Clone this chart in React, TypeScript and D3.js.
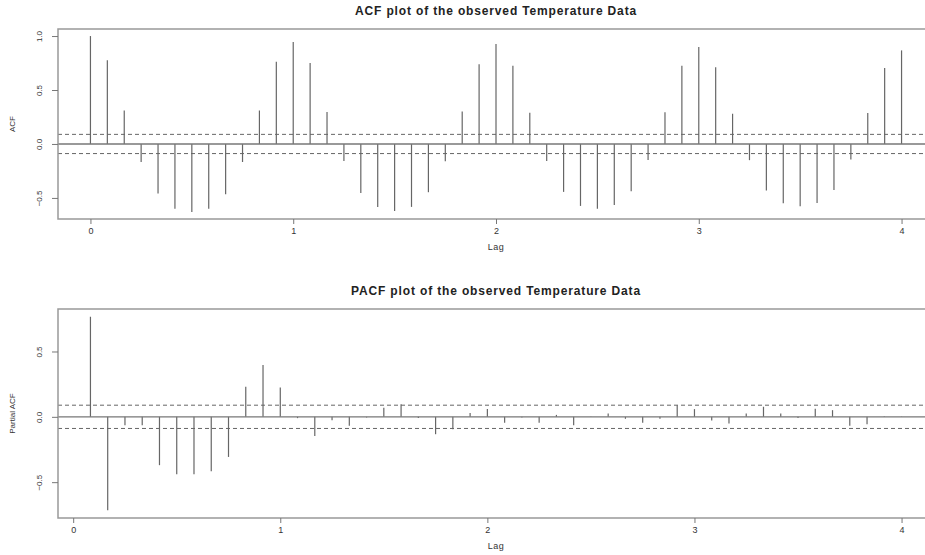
import { useEffect, useRef } from 'react';
import * as d3 from 'd3';

// monthly lags, frequency 12
const acfValues = [
  1.0, 0.775, 0.31, -0.167, -0.46, -0.6, -0.63, -0.6, -0.466, -0.167, 0.31, 0.762,
  0.944, 0.75, 0.296, -0.157, -0.454, -0.583, -0.62, -0.583, -0.447, -0.16, 0.3, 0.738,
  0.926, 0.725, 0.29, -0.157, -0.444, -0.574, -0.6, -0.565, -0.438, -0.148, 0.293, 0.725,
  0.898, 0.71, 0.28, -0.15, -0.432, -0.55, -0.577, -0.546, -0.426, -0.145, 0.287, 0.704,
  0.867,
];
const pacfValues = [
  0.766, -0.715, -0.064, -0.064, -0.37, -0.44, -0.44, -0.416, -0.307, 0.23, 0.396, 0.225,
  -0.01, -0.147, -0.026, -0.069, -0.005, 0.069, 0.097, -0.008, -0.133, -0.095, 0.03, 0.059,
  -0.046, -0.005, -0.046, 0.015, -0.064, 0.003, 0.026, -0.015, -0.046, -0.015, 0.089, 0.059,
  -0.028, -0.051, 0.026, 0.077, 0.026, -0.008, 0.061, 0.051, -0.069, -0.056, 0.005, 0.002,
];
const confLimit = 0.089;
const xTicks = [0, 1, 2, 3, 4];
const acfYTicks = [-0.5, 0, 0.5, 1];
const pacfYTicks = [-0.5, 0, 0.5];
const titles = ['ACF plot of the observed Temperature Data', 'PACF plot of the observed Temperature Data'];
const yLabels = ['ACF', 'Partial ACF'];

const W = 925;
const H = 555;
const FONT = '"Liberation Sans", Arial, sans-serif';

// R style range: extend 4% on each side
function rRange(vals: number[]): [number, number] {
  const [lo, hi] = d3.extent(vals) as [number, number];
  const pad = (hi - lo) * 0.04;
  return [lo - pad, hi + pad];
}

function drawPanel(svg: any, opts: any) {
  const { values, lagStart, top, bottom, left, right, yTicks, title, yLabel } = opts;
  const lags = values.map((_: number, i: number) => (lagStart + i) / 12);

  const x = d3.scaleLinear().domain(rRange(lags)).range([left, right]);
  const y = d3
    .scaleLinear()
    .domain(rRange([...values, confLimit, -confLimit]))
    .range([bottom, top]);

  const g = svg.append('g');

  // spikes
  g.selectAll('.spike')
    .data(values)
    .enter()
    .append('line')
    .attr('x1', (_: number, i: number) => x(lags[i]))
    .attr('x2', (_: number, i: number) => x(lags[i]))
    .attr('y1', y(0))
    .attr('y2', (d: number) => y(d))
    .attr('stroke', '#666')
    .attr('stroke-width', 1.2);

  // zero line
  g.append('line')
    .attr('x1', left)
    .attr('x2', right)
    .attr('y1', y(0))
    .attr('y2', y(0))
    .attr('stroke', '#777')
    .attr('stroke-width', 1.4);

  // confidence bands
  [confLimit, -confLimit].forEach((c) => {
    g.append('line')
      .attr('x1', left)
      .attr('x2', right)
      .attr('y1', y(c))
      .attr('y2', y(c))
      .attr('stroke', '#666')
      .attr('stroke-width', 1)
      .attr('stroke-dasharray', '4,3');
  });

  // box
  g.append('rect')
    .attr('x', left)
    .attr('y', top)
    .attr('width', right - left)
    .attr('height', bottom - top)
    .attr('fill', 'none')
    .attr('stroke', '#999')
    .attr('stroke-width', 1.5);

  // x axis
  const xa = g.append('g').attr('transform', `translate(0,${bottom})`).call(d3.axisBottom(x).tickValues(xTicks).tickFormat(d3.format('d')).tickSize(5).tickPadding(4));
  xa.select('.domain').remove();
  xa.selectAll('line').attr('stroke', '#777');
  xa.selectAll('text').attr('font-family', FONT).attr('font-size', 9).attr('fill', '#333');

  // y axis, labels turned like R's las=0
  const ya = g.append('g').attr('transform', `translate(${left},0)`).call(d3.axisLeft(y).tickValues(yTicks).tickFormat(d3.format('.1f')).tickSize(6).tickPadding(0));
  ya.select('.domain').remove();
  ya.selectAll('line').attr('stroke', '#777');
  ya.selectAll('text')
    .attr('x', 0)
    .attr('y', 0)
    .attr('dy', null)
    .attr('text-anchor', 'middle')
    .attr('transform', 'translate(-18,0) rotate(-90)')
    .attr('dominant-baseline', 'middle')
    .attr('font-family', FONT)
    .attr('font-size', 8)
    .attr('fill', '#333');

  // labels
  svg.append('text')
    .attr('x', (left + right) / 2)
    .attr('y', top - 17)
    .attr('text-anchor', 'middle')
    .attr('dominant-baseline', 'middle')
    .attr('font-family', FONT)
    .attr('font-weight', 'bold')
    .attr('font-size', 12)
    .attr('letter-spacing', 0.85)
    .attr('fill', '#222')
    .text(title);

  svg.append('text')
    .attr('x', (left + right) / 2)
    .attr('y', bottom + 29)
    .attr('text-anchor', 'middle')
    .attr('dominant-baseline', 'middle')
    .attr('font-family', FONT)
    .attr('font-size', 9)
    .attr('letter-spacing', 0.5)
    .attr('fill', '#333')
    .text('Lag');

  svg.append('text')
    .attr('transform', `translate(13,${(top + bottom) / 2}) rotate(-90)`)
    .attr('text-anchor', 'middle')
    .attr('dominant-baseline', 'middle')
    .attr('font-family', FONT)
    .attr('font-size', 8)
    .attr('fill', '#333')
    .text(yLabel);
}

export default function App() {
  const ref = useRef<SVGSVGElement>(null);

  useEffect(() => {
    const svg = d3.select(ref.current);
    svg.selectAll('*').remove();

    drawPanel(svg, {
      values: acfValues, lagStart: 0, top: 29, bottom: 219, left: 58, right: 934,
      yTicks: acfYTicks, title: titles[0], yLabel: yLabels[0],
    });
    drawPanel(svg, {
      values: pacfValues, lagStart: 1, top: 309, bottom: 518, left: 58, right: 934,
      yTicks: pacfYTicks, title: titles[1], yLabel: yLabels[1],
    });
  }, []);

  return (
    <svg
      ref={ref}
      width={W}
      height={H}
      style={{ position: 'absolute', left: 0, top: 0, background: '#fff' }}
    />
  );
}
